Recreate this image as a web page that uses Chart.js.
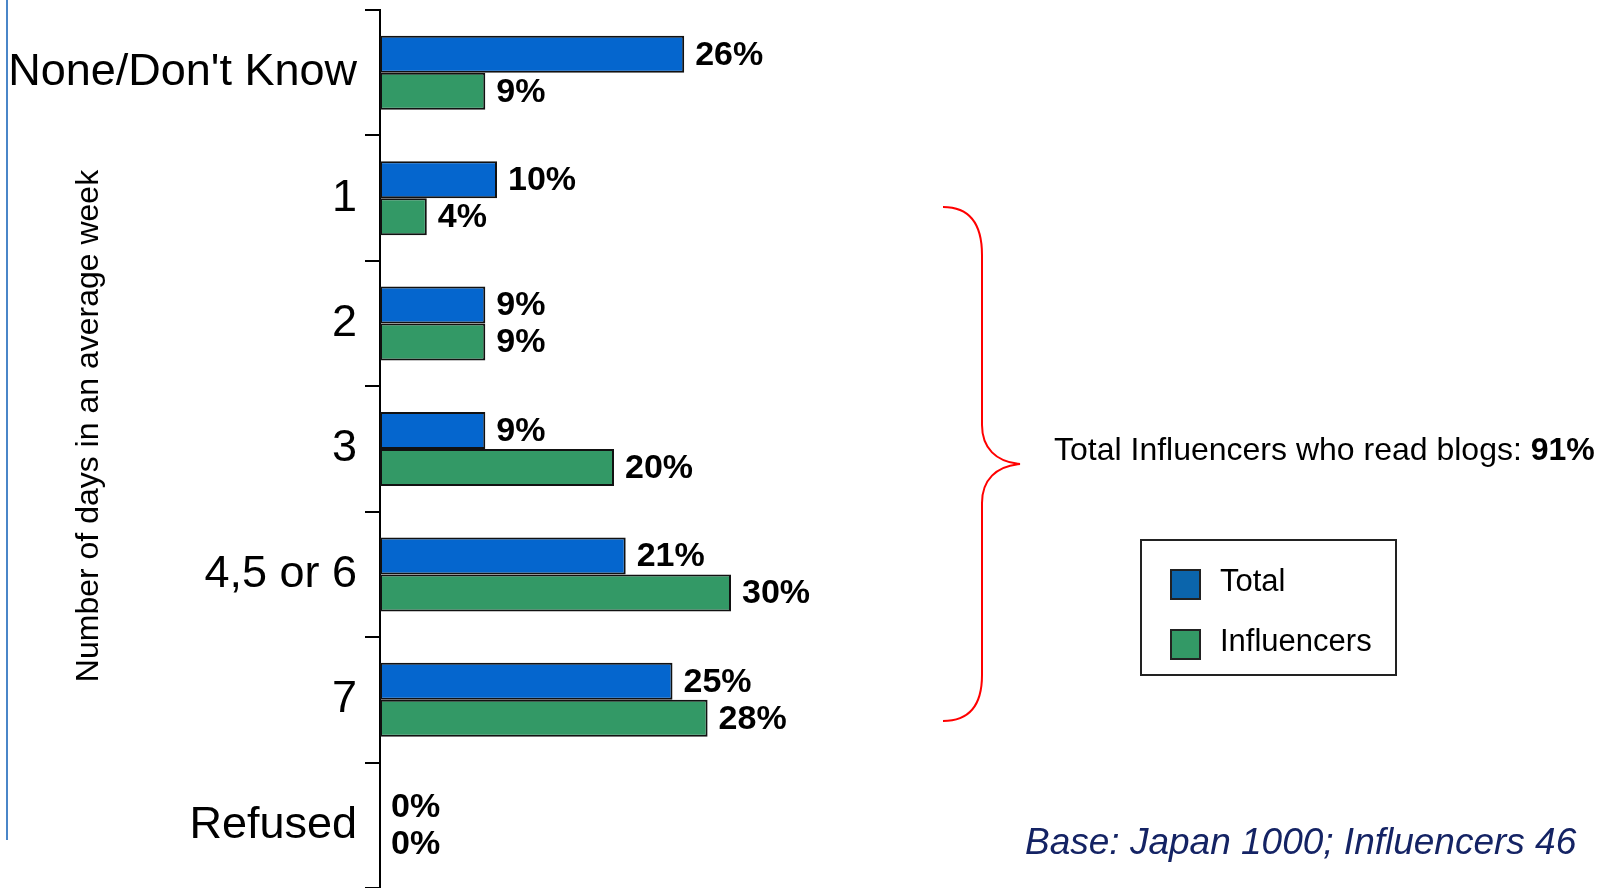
<!DOCTYPE html>
<html>
<head>
<meta charset="utf-8">
<script src="https://cdn.jsdelivr.net/npm/chart.js@4/dist/chart.umd.min.js"></script>
<style>
  html, body { margin: 0; padding: 0; background: #fff; }
  #wrap { position: relative; width: 1605px; height: 888px; overflow: hidden; font-family: "Liberation Sans", Arial, sans-serif; }
  #c { position: absolute; left: 0; top: 0; }
  .abs { position: absolute; white-space: nowrap; }
</style>
</head>
<body>
<div id="wrap">
  <canvas id="c" width="1605" height="888"></canvas>
  <div class="abs" style="left:6px;top:0;width:2px;height:840px;background:#4a86c8;"></div>
  <div class="abs" id="ytitle" style="left:87px;top:426px;font-size:32px;color:#000;transform:translate(-50%,-50%) rotate(-90deg);">Number of days in an average week</div>
  <svg class="abs" style="left:0;top:0;" width="1605" height="888">
    <path d="M943,207 C970,207 982,225 982,255 L982,425 C982,448 996,462 1020,464 C996,466 982,480 982,503 L982,675 C982,705 970,721 943,721" fill="none" stroke="#ff0000" stroke-width="2"/>
  </svg>
  <div class="abs" style="left:1054px;top:449px;font-size:32px;color:#000;transform:translateY(-50%);">Total Influencers who read blogs: <b>91%</b></div>
  <div class="abs" id="legend" style="left:1140px;top:539px;width:253px;height:133px;border:2px solid #222;"></div>
  <div class="abs" style="left:1025px;top:842px;font-size:37px;font-style:italic;color:#142364;transform:translateY(-50%);">Base: Japan 1000; Influencers 46</div>
</div>
<script>
const categories = ["None/Don't Know", "1", "2", "3", "4,5 or 6", "7", "Refused"];
const totalValues = [26, 10, 9, 9, 21, 25, 0];
const influencerValues = [9, 4, 9, 20, 30, 28, 0];
const seriesNames = ["Total", "Influencers"];
const barColors = ["#0566CE", "#339966"];
const legendColors = ["#0B65AC", "#339966"];

// HTML legend built from series arrays
const legend = document.getElementById('legend');
seriesNames.forEach((name, i) => {
  const top = i === 0 ? 28 : 88;
  const sw = document.createElement('div');
  sw.className = 'abs';
  sw.style.cssText = `left:28px;top:${top}px;width:27px;height:27px;border:2px solid #222;background:${legendColors[i]};`;
  legend.appendChild(sw);
  const tx = document.createElement('div');
  tx.className = 'abs';
  tx.style.cssText = `left:78px;top:${top + 14}px;font-size:31px;color:#000;transform:translateY(-55%);`;
  tx.textContent = name;
  legend.appendChild(tx);
});

const valueLabels = {
  id: 'valueLabels',
  afterDatasetsDraw(chart) {
    const ctx = chart.ctx;
    ctx.save();
    ctx.font = 'bold 34px "Liberation Sans", Arial, sans-serif';
    ctx.fillStyle = '#000';
    ctx.textAlign = 'left';
    ctx.textBaseline = 'middle';
    chart.data.datasets.forEach((ds, di) => {
      const meta = chart.getDatasetMeta(di);
      meta.data.forEach((bar, i) => {
        ctx.fillText(ds.data[i] + '%', bar.x + 11, bar.y + 1);
      });
    });
    ctx.restore();
  }
};

new Chart(document.getElementById('c'), {
  type: 'bar',
  data: {
    labels: categories,
    datasets: [
      { label: seriesNames[0], data: totalValues, backgroundColor: barColors[0], borderColor: '#111', borderWidth: 2, borderSkipped: false },
      { label: seriesNames[1], data: influencerValues, backgroundColor: barColors[1], borderColor: '#111', borderWidth: 2, borderSkipped: false }
    ]
  },
  options: {
    indexAxis: 'y',
    responsive: false,
    animation: false,
    events: [],
    categoryPercentage: 0.59,
    barPercentage: 1.0,
    layout: { padding: { left: 0, top: 10, bottom: 0, right: 757 } },
    plugins: { legend: { display: false }, tooltip: { enabled: false } },
    scales: {
      x: { display: false, min: 0, max: 40 },
      y: {
        afterFit(scale) { scale.width = 380; scale.paddingTop = 0; scale.paddingBottom = 0; },
        border: { display: true, color: '#000', width: 2 },
        grid: { display: true, drawOnChartArea: false, drawTicks: true, tickLength: 15, color: '#000', lineWidth: 2, offset: true },
        ticks: { color: '#000', padding: 8, font: { family: '"Liberation Sans", Arial, sans-serif', size: 45 } }
      }
    }
  },
  plugins: [valueLabels]
});
</script>
</body>
</html>
